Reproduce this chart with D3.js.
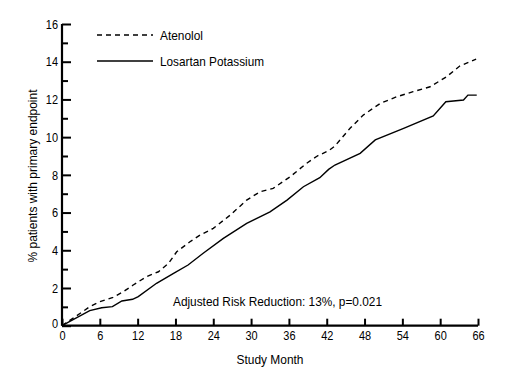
<!DOCTYPE html>
<html><head><meta charset="utf-8">
<script src="https://cdn.jsdelivr.net/npm/d3@7"></script>
<style>
body{margin:0;background:#fff;}
text{font-family:"Liberation Sans",Arial,sans-serif;fill:#000;}
</style></head>
<body><svg id="c" width="507" height="390"></svg>
<script>
const atenololMonths = [0,2.9,4.4,6,8.1,9.7,11.3,13.4,15.3,16.9,18.2,20.3,21.9,24,26.7,29.3,31.4,33.5,36.2,38.8,40.5,42.3,43.3,45.7,47.8,50.5,53.1,55.7,58.4,61,63.1,65.7];
const atenololValues = [0,0.66,1.01,1.27,1.5,1.8,2.16,2.6,2.86,3.31,3.92,4.45,4.81,5.16,5.87,6.66,7.1,7.28,7.9,8.61,9.0,9.28,9.53,10.47,11.17,11.79,12.14,12.41,12.67,13.2,13.77,14.14];
const losartanMonths = [0,4.4,6.3,8,9.5,11.2,12.1,15,17.7,20,22.4,25.6,29.3,33,35.7,38.3,40.9,42.3,43.3,47.3,49.7,54.2,58.9,60.9,63.7,64.4,65.8];
const losartanValues = [0,0.8,0.95,1.01,1.31,1.4,1.54,2.25,2.78,3.22,3.84,4.63,5.43,6.04,6.66,7.37,7.85,8.29,8.52,9.14,9.85,10.47,11.12,11.88,11.97,12.23,12.23];
const xTicks = [0,6,12,18,24,30,36,42,48,54,60,66];
const yTicks = [0,2,4,6,8,10,12,14,16];
const yMinorTicks = [1,3,5,7,9,11,13,15];
const seriesNames = ["Atenolol","Losartan Potassium"];
const xTitle = "Study Month";
const yTitle = "% patients with primary endpoint";
const note = "Adjusted Risk Reduction: 13%, p=0.021";

const svg = d3.select("#c");
const x = d3.scaleLinear().domain([0,66]).range([62,478]);
const y = d3.scaleLinear().domain([0,16]).range([325.7,24]);

const line = d3.line().x(d=>x(d[0])).y(d=>y(d[1]));
const aData = atenololMonths.map((m,i)=>[m,atenololValues[i]]);
const lData = losartanMonths.map((m,i)=>[m,losartanValues[i]]);

svg.append("path").datum(aData).attr("d",line).attr("fill","none").attr("stroke","#000").attr("stroke-width",1.4).attr("stroke-dasharray","5,4");
svg.append("path").datum(lData).attr("d",line).attr("fill","none").attr("stroke","#000").attr("stroke-width",1.4);

// y axis
const ya = svg.append("g").attr("transform",`translate(${x(0)},0)`)
  .call(d3.axisLeft(y).tickValues(yTicks).tickSize(-9).tickPadding(4).tickFormat(d3.format("d")));
const ym = svg.append("g").attr("transform",`translate(${x(0)},0)`)
  .call(d3.axisLeft(y).tickValues(yMinorTicks).tickSize(-6).tickFormat(""));
ym.select(".domain").remove();
// x axis
const xa = svg.append("g").attr("transform",`translate(0,${y(0)})`)
  .call(d3.axisBottom(x).tickValues(xTicks).tickSize(-7).tickPadding(5).tickFormat(d3.format("d")));
svg.selectAll(".domain").attr("stroke","#000").attr("stroke-width",2.2);
ya.select(".domain").attr("d",`M0,${y(0)}V${y(16)}`);
xa.select(".domain").attr("d",`M${x(0)},0H${x(66)}`);
svg.selectAll(".tick line").attr("stroke","#000").attr("stroke-width",2);
svg.selectAll(".tick text").style("font-size","13px").attr("fill","#000")
  .attr("lengthAdjust","spacingAndGlyphs").attr("textLength",function(){return this.textContent.length*6.1;});
ya.select(".tick text").attr("dy","0.1em");

function fit(sel,w){return sel.attr("lengthAdjust","spacingAndGlyphs").attr("textLength",w);}
// titles
fit(svg.append("text").attr("x",270).attr("y",364).attr("text-anchor","middle").style("font-size","13px").text(xTitle),67);
fit(svg.append("text").attr("transform","translate(37,176) rotate(-90)").attr("text-anchor","middle").style("font-size","13px").text(yTitle),173);
fit(svg.append("text").attr("x",173).attr("y",306).style("font-size","13px").text(note),209);

// legend
const leg = svg.append("g");
leg.append("line").attr("x1",97).attr("x2",153).attr("y1",35).attr("y2",35).attr("stroke","#000").attr("stroke-width",1.5).attr("stroke-dasharray","5,4");
leg.append("line").attr("x1",97).attr("x2",153).attr("y1",61).attr("y2",61).attr("stroke","#000").attr("stroke-width",1.5);
fit(leg.append("text").attr("x",160).attr("y",40).style("font-size","13px").text(seriesNames[0]),43);
fit(leg.append("text").attr("x",160).attr("y",66).style("font-size","13px").text(seriesNames[1]),104);
</script></body></html>
